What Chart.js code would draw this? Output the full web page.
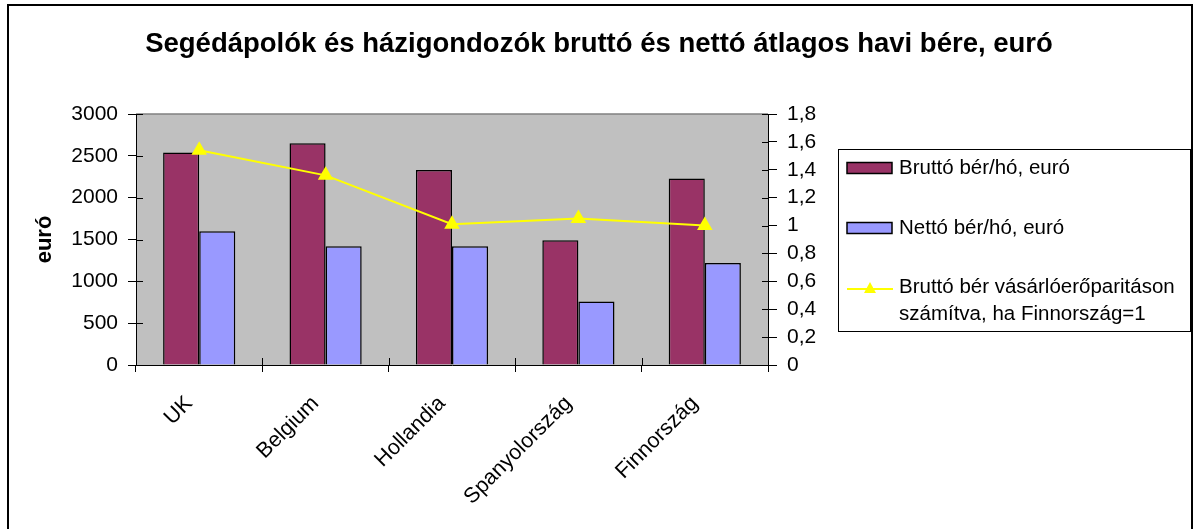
<!DOCTYPE html>
<html>
<head>
<meta charset="utf-8">
<script src="https://cdn.jsdelivr.net/npm/chart.js@4.4.1/dist/chart.umd.min.js"></script>
<style>
  html, body { margin: 0; padding: 0; background: #fff; }
  #wrap { width: 1198px; height: 529px; }
</style>
</head>
<body>
<div id="wrap"><canvas id="myChart" width="1198" height="529"></canvas></div>
<script>
// data
const categories = ['UK', 'Belgium', 'Hollandia', 'Spanyolország', 'Finnország'];
const bruttoBer = [2540, 2650, 2330, 1490, 2230];
const nettoBer = [1600, 1420, 1420, 760, 1220];
const paritas = [1.54, 1.36, 1.01, 1.05, 1.00];
const seriesNames = ['Bruttó bér/hó, euró', 'Nettó bér/hó, euró', 'Bruttó bér vásárlóerőparitáson\nszámítva, ha Finnország=1'];
const leftAxis = { min: 0, max: 3000, step: 500 };
const rightAxis = { min: 0, max: 1.8, step: 0.2 };

const FONT = "'Liberation Sans', Arial, sans-serif";

// gray plot background, frame and the cross tick marks
const frame = {
  id: 'frame',
  beforeDraw(chart) {
    const c = chart.ctx, a = chart.chartArea;
    c.save();
    c.fillStyle = '#fff';
    c.fillRect(0, 0, chart.width, chart.height);
    c.fillStyle = '#C0C0C0';
    c.fillRect(a.left, a.top, a.right - a.left, a.bottom - a.top);
    c.strokeStyle = '#000';
    c.lineWidth = 2;
    c.strokeRect(8, 5, 1184, 530);
    c.restore();
  },
  afterDraw(chart) {
    const c = chart.ctx, a = chart.chartArea;
    c.save();
    c.strokeStyle = '#808080';
    c.lineWidth = 1.5;
    c.beginPath();
    c.moveTo(a.left, a.top);
    c.lineTo(a.right, a.top);
    c.stroke();
    // inner halves of the ticks
    c.strokeStyle = '#000';
    c.lineWidth = 1;
    c.beginPath();
    chart.scales.y.ticks.forEach(t => {
      const y = Math.round(chart.scales.y.getPixelForValue(t.value)) + 0.5;
      c.moveTo(a.left, y); c.lineTo(a.left + 7, y);
    });
    chart.scales.y2.ticks.forEach(t => {
      const y = Math.round(chart.scales.y2.getPixelForValue(t.value)) + 0.5;
      c.moveTo(a.right - 6, y); c.lineTo(a.right, y);
    });
    const xs = chart.scales.x;
    const step = (xs.right - xs.left) / categories.length;
    for (let i = 0; i <= categories.length; i++) {
      const x = Math.round(xs.left + i * step) + 0.5;
      c.moveTo(x, a.bottom - 7); c.lineTo(x, a.bottom);
    }
    c.stroke();
    c.restore();
  }
};

// legend box on the right, the way Excel drew it
const sideLegend = {
  id: 'sideLegend',
  afterDraw(chart) {
    const c = chart.ctx;
    const box = { x: 838, y: 149, w: 352, h: 182 };
    c.save();
    c.fillStyle = '#fff';
    c.fillRect(box.x, box.y, box.w, box.h);
    c.strokeStyle = '#000';
    c.lineWidth = 1;
    c.strokeRect(box.x + 0.5, box.y + 0.5, box.w, box.h);
    c.font = '20.5px ' + FONT;
    c.textBaseline = 'middle';
    c.fillStyle = '#000';
    const rows = [168, 228, 287];
    chart.data.datasets.forEach((ds, i) => {
      const cy = rows[i];
      if (ds.type === 'line') {
        c.strokeStyle = ds.borderColor;
        c.lineWidth = 2;
        c.beginPath();
        c.moveTo(847, cy + 2); c.lineTo(893, cy + 2);
        c.stroke();
        c.fillStyle = ds.borderColor;
        c.beginPath();
        c.moveTo(870, cy - 5); c.lineTo(876, cy + 6); c.lineTo(864, cy + 6);
        c.closePath();
        c.fill();
      } else {
        c.fillStyle = ds.backgroundColor;
        c.fillRect(847, cy - 5.5, 45, 11);
        c.strokeStyle = '#000';
        c.lineWidth = 1.5;
        c.strokeRect(847, cy - 5.5, 45, 11);
      }
      c.fillStyle = '#000';
      ds.label.split('\n').forEach((line, k) => {
        c.fillText(line, 899, cy + k * 27);
      });
    });
    c.restore();
  }
};

const ctx = document.getElementById('myChart').getContext('2d');
const myChart = new Chart(ctx, {
  type: 'bar',
  data: {
    labels: categories,
    datasets: [
      {
        label: seriesNames[0],
        data: bruttoBer,
        backgroundColor: '#993366',
        borderColor: '#000',
        borderWidth: 1.5,
        categoryPercentage: 0.571,
        barPercentage: 1,
        yAxisID: 'y',
        order: 1
      },
      {
        label: seriesNames[1],
        data: nettoBer,
        backgroundColor: '#9999FF',
        borderColor: '#000',
        borderWidth: 1.5,
        categoryPercentage: 0.571,
        barPercentage: 1,
        yAxisID: 'y',
        order: 1
      },
      {
        type: 'line',
        label: seriesNames[2],
        data: paritas,
        borderColor: '#FFFF00',
        backgroundColor: '#FFFF00',
        borderWidth: 2,
        pointStyle: 'triangle',
        pointRadius: 7,
        pointBackgroundColor: '#FFFF00',
        pointBorderColor: '#FFFF00',
        tension: 0,
        yAxisID: 'y2',
        order: 0
      }
    ]
  },
  options: {
    responsive: false,
    animation: false,
    layout: { padding: 0 },
    plugins: {
      legend: { display: false },
      tooltip: { enabled: false },
      title: {
        display: true,
        text: 'Segédápolók és házigondozók bruttó és nettó átlagos havi bére, euró',
        color: '#000',
        font: { family: FONT, size: 27.5, weight: 'bold' },
        padding: { top: 28, bottom: 53 }
      }
    },
    scales: {
      x: {
        afterFit(s) { s.height = 164; },
        border: { color: '#000', width: 1 },
        grid: { drawOnChartArea: false, color: '#000', tickLength: 7, offset: true },
        ticks: {
          color: '#000',
          font: { family: FONT, size: 21.5 },
          minRotation: 45,
          maxRotation: 45,
          autoSkip: false,
          padding: 19,
          labelOffset: -10
        }
      },
      y: {
        position: 'left',
        min: leftAxis.min,
        max: leftAxis.max,
        afterFit(s) { s.width = 136; },
        border: { color: '#000', width: 1 },
        grid: { drawOnChartArea: false, color: '#000', tickLength: 8 },
        ticks: {
          stepSize: leftAxis.step,
          autoSkip: false,
          color: '#000',
          font: { family: FONT, size: 21 },
          padding: 10,
          callback: v => String(v)
        },
        title: {
          display: true,
          text: 'euró',
          color: '#000',
          font: { family: FONT, size: 22, weight: 'bold' },
          padding: { top: 32, bottom: 0 }
        }
      },
      y2: {
        position: 'right',
        min: rightAxis.min,
        max: rightAxis.max,
        afterFit(s) { s.width = 430; },
        border: { color: '#000', width: 1 },
        grid: { drawOnChartArea: false, color: '#000', tickLength: 9 },
        ticks: {
          stepSize: rightAxis.step,
          autoSkip: false,
          color: '#000',
          font: { family: FONT, size: 21 },
          padding: 10,
          callback: v => String(v).replace('.', ',')
        }
      }
    }
  },
  plugins: [frame, sideLegend]
});
</script>
</body>
</html>
